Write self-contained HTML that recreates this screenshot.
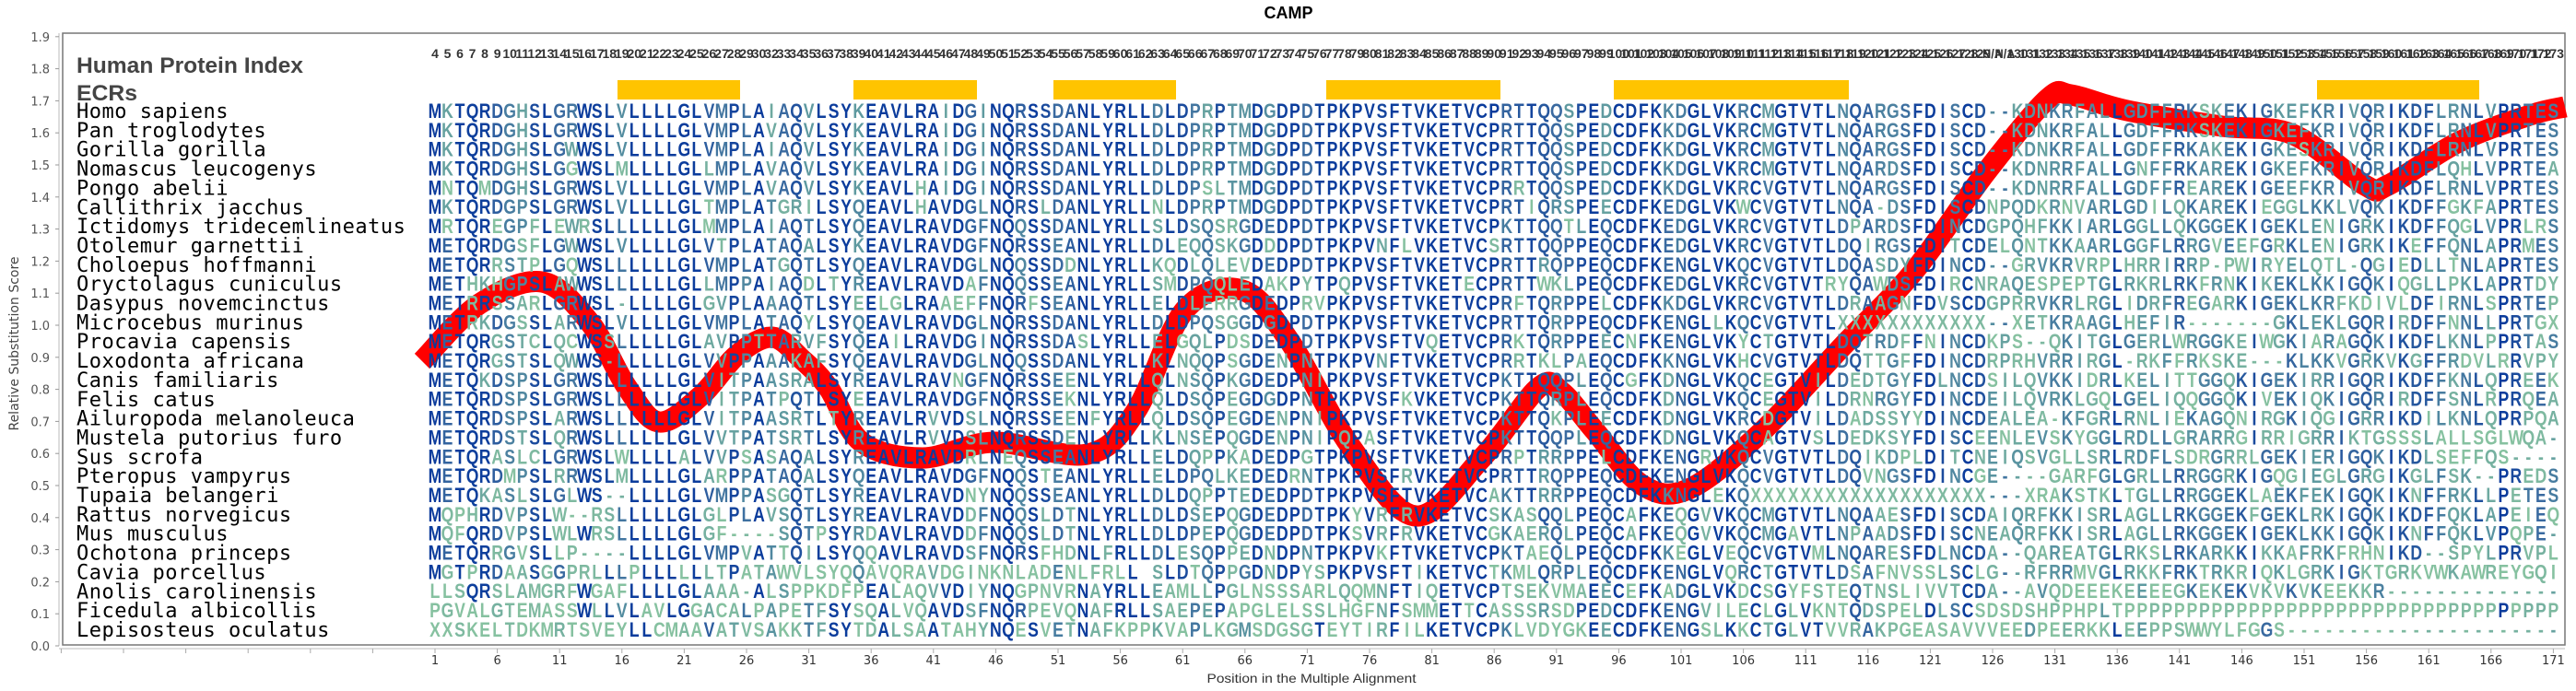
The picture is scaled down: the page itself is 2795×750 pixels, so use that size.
<!DOCTYPE html>
<html><head><meta charset="utf-8"><style>
html,body{margin:0;padding:0;background:#fff;}
svg{display:block;}
</style></head><body>
<svg id="s" xmlns="http://www.w3.org/2000/svg" width="2795" height="750" viewBox="0 0 2795 750">
<rect width="2795" height="750" fill="#fff"/>
<text x="1398" y="20" font-family="Liberation Sans, sans-serif" font-weight="bold" font-size="18" text-anchor="middle" fill="#000">CAMP</text>
<rect x="68" y="36" width="2715" height="664" fill="none" stroke="#777" stroke-width="1.5"/>
<line x1="64" y1="36" x2="64" y2="701" stroke="#bbb" stroke-width="1"/>
<line x1="64" y1="704" x2="2783" y2="704" stroke="#bbb" stroke-width="1"/>
<text transform="translate(20,373) rotate(-90)" font-family="DejaVu Sans, sans-serif" font-size="14" text-anchor="middle" fill="#444">Relative Substitution Score</text>
<text x="1423" y="741" font-family="Liberation Sans, sans-serif" font-size="14" text-anchor="middle" fill="#333" textLength="227" lengthAdjust="spacingAndGlyphs">Position in the Multiple Alignment</text>
<text x="83" y="79" font-family="Liberation Sans, sans-serif" font-weight="bold" font-size="24" fill="#444" textLength="246" lengthAdjust="spacingAndGlyphs">Human Protein Index</text>
<text x="83" y="109" font-family="Liberation Sans, sans-serif" font-weight="bold" font-size="24" fill="#444" textLength="66" lengthAdjust="spacingAndGlyphs">ECRs</text>
<g fill="#ffc400">
<rect x="670" y="87" width="133" height="21"/>
<rect x="926" y="87" width="134" height="21"/>
<rect x="1143" y="87" width="133" height="21"/>
<rect x="1439" y="87" width="189" height="21"/>
<rect x="1751" y="87" width="255" height="21"/>
<rect x="2514" y="87" width="176" height="21"/>
</g>
<g id="ax"></g>
<path id="red" fill="none" stroke="#ff0000" stroke-width="23" stroke-linejoin="round"/>
<g id="seq"></g>
</svg>
<script>
var NS="http://www.w3.org/2000/svg";
var svg=document.getElementById('s'),ax=document.getElementById('ax'),sq=document.getElementById('seq');
function el(p,tag,at,txt){var e=document.createElementNS(NS,tag);for(var k in at)e.setAttribute(k,at[k]);if(txt!=null)e.textContent=txt;p.appendChild(e);return e;}
for(var i=0;i<=19;i++){var v=i/10,y=701-v*348;
 el(ax,'line',{x1:60,y1:y,x2:64,y2:y,stroke:'#999','stroke-width':1});
 el(ax,'text',{x:54,y:y+5,'font-family':'DejaVu Sans, sans-serif','font-size':13,'text-anchor':'end',fill:'#555'},v.toFixed(1));}
var X0=472,DX=13.52;
for(var k=-6;k<=34;k++){var x=X0+DX*5*k;
 el(ax,'line',{x1:x,y1:704,x2:x,y2:709,stroke:'#aaa','stroke-width':1});
 if(k>=0) el(ax,'text',{x:x,y:721,'font-family':'DejaVu Sans, sans-serif','font-size':13,'text-anchor':'middle',fill:'#333'},String(1+5*k));}
var labs=[];for(var n=4;n<=30;n++)labs.push(String(n));for(n=32;n<=129;n++)labs.push(String(n));labs.push('N/A','N/A');for(n=130;n<=173;n++)labs.push(String(n));
for(var c=0;c<labs.length;c++){var x=X0+DX*c,top=(c%2==0);
 var t=el(ax,'text',{x:x,y:top?63:84,'font-family':'Liberation Sans, sans-serif','font-weight':'bold','font-size':14,'text-anchor':'middle',fill:'#333'},labs[c]);
 if(labs[c].length>=3)t.setAttribute('textLength',labs[c]=='N/A'?22:23),t.setAttribute('lengthAdjust','spacingAndGlyphs');}
var P=[[458,392],[520,330],[588,306],[640,350],[680,420],[715,458],[760,430],[800,385],[838,366],[870,390],[899,421],[935,480],[1001,497],[1078,480],[1180,493],[1232,447],[1286,336],[1348,315],[1399,370],[1465,484],[1536,560],[1608,497],[1669,421],[1694,425],[1730,467],[1781,526],[1832,531],[1909,471],[2000,375],[2077,294],[2154,188],[2221,108],[2247,103],[2308,120],[2411,137],[2488,146],[2566,201],[2591,201],[2668,154],[2745,125],[2783,116]];
var d='M'+P[0][0]+','+P[0][1];
for(var i=0;i<P.length-1;i++){var p0=P[Math.max(0,i-1)],p1=P[i],p2=P[i+1],p3=P[Math.min(P.length-1,i+2)];
 d+=' C'+(p1[0]+(p2[0]-p0[0])/6)+','+(p1[1]+(p2[1]-p0[1])/6)+' '+(p2[0]-(p3[0]-p1[0])/6)+','+(p2[1]-(p3[1]-p1[1])/6)+' '+p2[0]+','+p2[1];}
document.getElementById('red').setAttribute('d',d);
var R=[
["Homo sapiens","MKTQRDGHSLGRWSLVLLLLGLVMPLAIAQVLSYKEAVLRAIDGINQRSSDANLYRLL","DLDPRPTMDGDPDTPKPVSFTVKETVCPRTTQQSPEDCDFKKDGLVKRCMGTVTLNQ","NQARGSFDISCD--KDNKRFALLGDFFRKSKEKIGKEFKRIVQRIKDFLRNLVPRTES"],
["Pan troglodytes","MKTQRDGHSLGRWSLVLLLLGLVMPLAVAQVLSYKEAVLRAIDGINQRSSDANLYRLL","DLDPRPTMDGDPDTPKPVSFTVKETVCPRTTQQSPEDCDFKKDGLVKRCMGTVTLNQ","NQARGSFDISCD--KDNKRFALLGDFFRKSKEKIGKEFKRIVQRIKDFLRNLVPRTES"],
["Gorilla gorilla","MKTQRDGHSLGWWSLVLLLLGLVMPLAIAQVLSYKEAVLRAIDGINQRSSDANLYRLL","DLDPRPTMDGDPDTPKPVSFTVKETVCPRTTQQSPEDCDFKKDGLVKRCMGTVTLNQ","NQARGSFDISCD--KDNKRFALLGDFFRKAKEKIGKESKRIVQRIKDFLRNLVPRTES"],
["Nomascus leucogenys","MKTQRDGHSLGGWSLMLLLLGLLMPLAVAQVLSYKEAVLRAIDGINQRSSDANLYRLL","DLDPRPTMDGDPDTPKPVSFTVKETVCPRTTQQSPEDCDFKKDGLVKRCMGTVTLNQ","NQARDSFDISCD--KDNRRFALLGNFFRKAREKIGKEFKRIVQRIKDFLQHLVPRTEA"],
["Pongo abelii","MNTQMDGHSLGRWSLVLLLLGLVMPLAVAQVLSYKEAVLHAIDGINQRSSDANLYRLL","DLDPSLTMDGDPDTPKPVSFTVKETVCPRRTQQSPEDCDFKKDGLVKRCVGTVTLNQ","NQARGSFDISCD--KDNRRFALLGDFFREAREKIGEEFKRIVQRIKDFLRNLVPRTES"],
["Callithrix jacchus","MKTQRDGPSLGRWSLVLLLLGLTMPLATGRILSYQEAVLHAVDGLNQRSLDANLYRLL","NLDPRPTMDGDPDTPKPVSFTVKETVCPRTIQRSPEECDFKEDGLVKWCVGTVTLNQ","NQA-DSFDISCDNPQDKRNVARLGDILQKAREKIEGGLKKLVQKIKDFFGKFAPRTES"],
["Ictidomys tridecemlineatus","MRTQREGPFLEWRSLLLLLLGLMMPLAIAQTLSYQEAVLRAVDGFNQQSSDANLYRLL","SLDSQSRGDEDPDTPKPVSFTVKETVCPKTTQQTLEQCDFKEDGLVKRCVGTVTLDP","DPARDSFDINCDGPQHFKKIARLGGLLQKGGEKIGEKLENIGRKIKDFFQGLVPRLRS"],
["Otolemur garnettii","METQRDGSFLGWWSLVLLLLGLVTPLATAQALSYKEAVLRAVDGFNQRSSEANLYRLL","DLEQQSKGDDDPDTPKPVNFLVKETVCSRTTQQPPEQCDFKEDGLVKRCVGTVTLDQ","DQIRGSFDITCDELQNTKKAARLGGFLRRGVEEFGRKLENIGRKIKEFFQNLAPRMES"],
["Choloepus hoffmanni","METQRRSTPLGQWSLLLLLLGLVMPLATGQTLSYQEAVLRAVDGLNQQSSDDNLYRLL","KQDLQLEVDEDPDTPKPVSFTVKETVCPRTTRQPPEQCDFKENGLVKQCVGTVTLDQ","DQASDYFDINCD--GRVKRVRPLHRRIRRP-PWIRYELQTL-QGIEDLLTNLAPRTES"],
["Oryctolagus cuniculus","METHKHGPSLAWWSLLLLLLGLLMPPAIAQDLTYREAVLRAVDAFNQQSSEANLYRLL","SMDPQQLEDAKPYTPQPVSFTVKETECPRTTWKLPEQCDFKEDGLVKRCVGTVTRYQ","YQAWDSFDIRCNRAQESPEPTGLRKRLRKFRNKIKEKLKKIGQKIQGLLPKLAPRTDY"],
["Dasypus novemcinctus","METRRSSARLGRWSL-LLLLGLGVPLAAAQTLSYEELGLRAAEFFNQRFSEANLYRLL","ELDLERRGDEDPRVPKPVSFTVKETVCPRFTQRPPELCDFKKDGLVKRCVGTVTLDR","DRAAGNFDVSCDGPRRVKRLRGLIDRFREGARKIGEKLKRFKDIVLDFIRNLSPRTEP"],
["Microcebus murinus","METRKDGSSLARWSLVLLLLGLVMPLATAQYLSYQEAVLRAVDGLNQRSSDANLYRLL","DLDPQSGGDGDPDTPKPVSFTVKETVCPRTTQRPPEQCDFKENGLLKQCVGTVTLXX","XXXXXXXXXXXX--XETKRAAGLHEFIR-------GKLEKLGQRIRDFFNNLLPRTGX"],
["Procavia capensis","METQRGSTCLQCWSSLLLLLGLAVPPTTARVFSYQEAILRAVDGINQRSSDASLYRLL","ELGQLPDSDEDPDTPKPVSFTVQETVCPRKTQRPPEECNFKENGLVKYCTGTVTLDQ","DQTRDFFNINCDKPS--QKITGLGERLWRGGKEIWGKIARAGQKIKDFLKNLPPRTAS"],
["Loxodonta africana","METQRGSTSLQWWS-LLLLLGLVVPPAAAKAFSYQEAVLRAVDGLNQQSSDANLYRLL","KLNQQPSGDENPNTPKPVNFTVKETVCPRRTKLPAEQCDFKKNGLVKHCVGTVTLDQ","DQTTGFFDINCDRPRHVRRIRGL-RKFFRKSKE---KLKKVGRKVKGFFRDVLRRVPY"],
["Canis familiaris","METQKDSPSLGRWSLLLLLLGLVITPAASRALSYREAVLRAVNGFNQRSSEENLYRLL","QLNSQPKGDEDPNIPKPVSFTVKETVCPKTTQQPLEQCGFKDNGLVKQCEGTVILDE","DEDTGYFDLNCDSILQVKKIDRLKELITTGGQKIGEKIRRIGQRIKDFFKNLQPREEK"],
["Felis catus","METQRDSPSLGRWSLLLLLLGLVITPATPQTLSYEEAVLRAVDGFNQRSSEKNLYRLL","QLDSQPEGDGDPNTPKPVSFKVKETVCPKTTQRPLEQCDFKDNGLVKQCEGTVILDR","DRNRGYFDINCDEILQVRKLGQLGELIQQGGQKIVEKIQKIGQRIRDFFSNLRPRQEA"],
["Ailuropoda melanoleuca","METQRDSPSLARWSLLLLLLGLVITPAASRTLTYREAVLRVVDSLNQRSSEENFYRLL","QLDSQPEGDENPNIPKPVSFTVKETVCPKTTQKPLEECDFKDNGLVKRCDGTVILDA","DADSSYYDINCDEALEA-KFGRLRNLIEKAGQNIRGKIQGIGRRIKDILKNLQPRPQA"],
["Mustela putorius furo","METQRDSTSLQRWSLLLLLLGLVVTPATSRTLSYREAVLRVVDSLNQRSSDENLYRLL","KLNSEPQGDENPNIPQPASFTVKETVCPKTTQQPLEQCDFKDNGLVKQCAGTVSLDE","DEDKSYFDISCEENLEVSKYGGLRDLLGRARRGIRRIGRRIKTGSSSLALLSGLWQA"],
["Sus scrofa","METQRASLCLGRWSLWLLLLALVVPSASAQALSYREAVLRAVDRLNEQSSEANLYRLL","ELDQPPKADEDPGTPKPVSFTVKETVCPRPTRRPPELCDFKENGRVKQCVGTVTLDQ","DQIKDPLDITCNEIQSVGLLSRLRDFLSDRGRRLGEKIERIGQKIKDLSEFFQS----"],
["Pteropus vampyrus","METQRDMPSLRRWSLMLLLLGLARPPATAQALSYQEAVLRAVDGFNQQSTEANLYRLL","ELDPQLKEDEDRNTPKPVSFRVKETVCPRTTRQPPEQCDFKENGLVKQCVGTVTLDQ","DQVNGSFDINCGE----GARFGLGRLLRRGGRKIGQGIEGLGRGIKGLFSK--PREDS"],
["Tupaia belangeri","METQKASLSLGLWS--LLLLGLVMPPASGQTLSYREAVLRAVDNYNQQSSEANLYRLL","DLDQPPTEDEDPDTPKPVSFTVKETVCAKTTRRPPEQCDFKKNGLEKQXXXXXXXXX","XXXXXXXXXXXX---XRAKSTKLTGLLRRGGEKLAEKFEKIGQKIKNFFRKLLPETES"],
["Rattus norvegicus","MQPHRDVPSLW--RSLLLLLGLGLPLAVSQTLSYREAVLRAVDDFNQQSLDTNLYRLL","DLDSEPQGDEDPDTPKYVRFRVKETVCSKASQQLPEQCAFKEQGVVKQCMGTVTLNQ","NQAAESFDISCDAIQRFKKISRLAGLLRKGGEKFGEKLRKIGQKIKDFFQKLAPEIEQ"],
["Mus musculus","MQFQRDVPSLWLWRSLLLLLGLGF----SQTPSYRDAVLRAVDDFNQQSLDTNLYRLL","DLDPEPQGDEDPDTPKSVRFRVKETVCGKAERQLPEQCAFKEQGVVKQCMGAVTLNP","NPAADSFDISCNEAQRFKKISRLAGLLRKGGEKIGEKLKKIGQKIKNFFQKLVPQPE-"],
["Ochotona princeps","METQRRGVSLLP----LLLLGLVMPVATTQILSYQQAVLRAVDSFNQRSFHDNLFRLL","DLESQPPEDNDPNTPKPVKFTVKETVCPKTAEQLPEQCDFKKEGLVEQCVGTVMLNQ","NQARESFDLNCDA--QAREATGLRKSLRKARKKIKKAFRKFRHNIKD--SPYLPRVPL"],
["Cavia porcellus","MGTPRDAASGGPRLLLPLLLLLLTPATAWVLSYQQAVQRAVDGINKNLADENLFRLL","SLDTQPPGDNDPYSPKPVSFTIKETVCTKMLQRPLEQCDFKENGLVQRCTGTVTLDS","DSAFNVSSLSCLG--RFRRMVGLRKKFRKTRKRIQKLGRKIGKTGRKVWKAWREYGQI"],
["Anolis carolinensis","LLSQRSLAMGRFWGAFLLLLGLAAA-ALSPPKDFPEALAQVVDIYNQGPNVRNAYRLL","EAMLLPGLNSSSARLQQMNFTIQETVCPTSEKVMAEECEFKADGLVKDCSGYFSTEQ","EQTNSLIVVTCDA--AVQDEEEKEEEEGKEKEKVKVKVKEEKKR--------------"],
["Ficedula albicollis","PGVALGTEMASSWLLVLAVLGGACALPAPETFSYSQALVQAVDSFNQRPEVQNAFRLL","SAEPEPAPGLELSSLHGFNFSMMETTCASSSRSDPEDCDFKENGVILECLGLVKNTQ","TQDSPELDLSCSDSDSHPPHPLTPPPPPPPPPPPPPPPPPPPPPPPPPPPPPPPPPPP"],
["Lepisosteus oculatus","XXSKELTDKMRTSVEYLLCMAAVATVSAKKTFSYTDALSAATAHYNQESVETNAFKPP","KVAPLKGMSDGSGTEYTIRFILKETVCPKLVDYGKEECDFKENGSLKKCTGLVTVVR","VRAKPGEASAVVVEEDPEERKKLEEPPSWWYLFGGS----------------------"]];
var N=171,seqs=[];
R.forEach(function(r){var a=(r[1]+'??????????').slice(0,58),b=(r[2]+'??????????').slice(0,57),c=r[3].slice(2);var s=(a+b+c);while(s.length<N)s+='-';seqs.push(s.slice(0,N));});
var stops=[[0,[11,60,156]],[0.35,[58,106,160]],[0.7,[91,150,160]],[1,[142,201,160]]];
function col(f){var t=1-f;for(var i=0;i<stops.length-1;i++){if(t<=stops[i+1][0]){var a=stops[i],b=stops[i+1],u=(t-a[0])/(b[0]-a[0]);return 'rgb('+[0,1,2].map(function(j){return Math.round(a[1][j]+(b[1][j]-a[1][j])*u)}).join(',')+')';}}return 'rgb(142,201,160)';}
for(var r=0;r<R.length;r++){var yb=128+r*20.85;
 el(sq,'text',{x:83,y:yb,'font-family':'DejaVu Sans Mono, Liberation Mono, monospace','font-size':22,fill:'#000','letter-spacing':'0.5'},R[r][0]);
 var g=el(sq,'g',{'font-family':'Liberation Sans, DejaVu Sans, sans-serif','font-weight':'bold','font-size':22,'text-anchor':'middle',transform:'scale(0.8,1)'});
 for(var c=0;c<N;c++){var ch=seqs[r][c];if(ch=='?')continue;var cnt=0;for(var q=0;q<seqs.length;q++)if(seqs[q][c]==ch)cnt++;
  var f=Math.min(1,cnt/seqs.length*1.3);
  el(g,'text',{x:((X0+DX*c)/0.8).toFixed(1),y:yb,fill:col(f)},ch);}
}
</script>
</body></html>
